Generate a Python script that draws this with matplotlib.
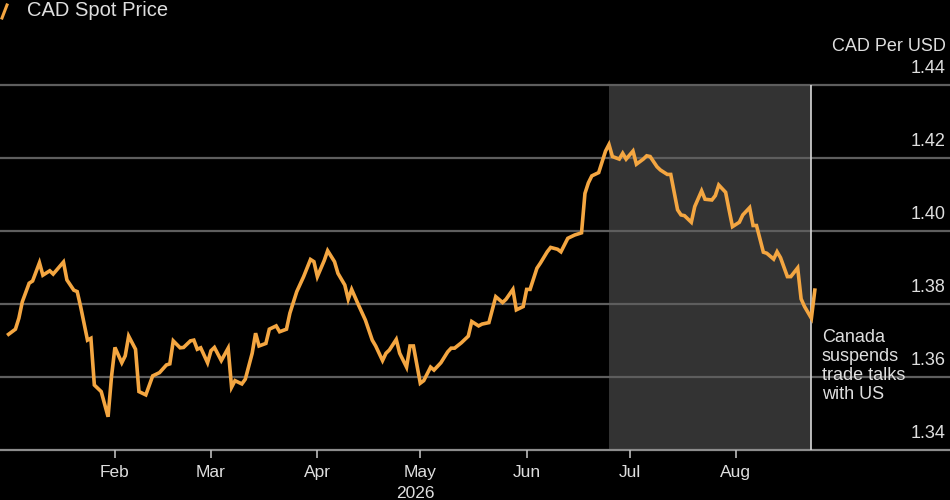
import numpy as np
import matplotlib
matplotlib.use("Agg")
import matplotlib.pyplot as plt
import matplotlib.dates as mdates
from matplotlib.lines import Line2D

plt.rcParams["font.family"] = ["Liberation Sans", "DejaVu Sans"]

# --- data ---
START = np.datetime64("2026-01-01")
days = [0, 2, 3, 4, 6, 7, 9, 10, 12, 13, 14, 16, 17, 19, 20, 21, 23, 24, 25, 27,
        29, 30, 31, 33, 34, 35, 37, 38, 40, 42, 44, 46, 47, 48, 50, 51, 53, 54, 55, 56,
        58, 59, 60, 62, 64, 65, 66, 68, 69, 71, 72, 73, 75, 76, 78, 79, 81, 82, 84, 86,
        88, 89, 90, 92, 93, 95, 96, 98, 99, 100, 102, 104, 106, 107, 109, 110, 111, 113,
        114, 116, 117, 118, 120, 121, 123, 124, 126, 128, 129, 130, 132, 134, 135, 137,
        138, 140, 142, 144, 145, 147, 148, 150, 151, 152, 154, 155, 157, 158, 160, 161,
        163, 165, 167, 168, 169, 170, 172, 174, 175, 176, 178, 179, 180, 182, 183, 185,
        186, 187, 189, 190, 192, 193, 195, 196, 197, 199, 200, 202, 203, 205, 206, 207,
        209, 210, 211, 213, 214, 216, 217, 218, 220, 221, 223, 224, 225, 227, 228, 230,
        231, 232, 234, 235]
price = [1.3717, 1.3731, 1.3761, 1.3806, 1.3857, 1.3863, 1.3913, 1.3879, 1.3891, 1.3882,
         1.3893, 1.3915, 1.3866, 1.3838, 1.3834, 1.3793, 1.3701, 1.3706, 1.3578, 1.3560,
         1.3491, 1.3601, 1.3681, 1.3639, 1.3658, 1.3712, 1.3676, 1.3560, 1.3551, 1.3603,
         1.3612, 1.3633, 1.3636, 1.3699, 1.3680, 1.3681, 1.3699, 1.3701, 1.3676, 1.3680,
         1.3639, 1.3672, 1.3681, 1.3645, 1.3679, 1.3572, 1.3590, 1.3581, 1.3594, 1.3665,
         1.3720, 1.3685, 1.3692, 1.3731, 1.3740, 1.3724, 1.3731, 1.3775, 1.3834, 1.3875,
         1.3922, 1.3916, 1.3875, 1.3919, 1.3946, 1.3916, 1.3884, 1.3852, 1.3813, 1.3840,
         1.3797, 1.3756, 1.3701, 1.3685, 1.3645, 1.3665, 1.3674, 1.3703, 1.3665, 1.3627,
         1.3685, 1.3685, 1.3583, 1.3590, 1.3627, 1.3619, 1.3639, 1.3669, 1.3679, 1.3679,
         1.3694, 1.3712, 1.3752, 1.3740, 1.3745, 1.3749, 1.3820, 1.3804, 1.3813, 1.3840,
         1.3784, 1.3793, 1.3840, 1.3840, 1.3898, 1.3912, 1.3943, 1.3955, 1.3950, 1.3943,
         1.3980, 1.3989, 1.3995, 1.4103, 1.4132, 1.4151, 1.4160, 1.4219, 1.4237, 1.4204,
         1.4197, 1.4213, 1.4197, 1.4219, 1.4183, 1.4197, 1.4206, 1.4204, 1.4176, 1.4167,
         1.4155, 1.4155, 1.4058, 1.4044, 1.4042, 1.4024, 1.4067, 1.4110, 1.4087, 1.4085,
         1.4097, 1.4126, 1.4106, 1.4058, 1.4012, 1.4024, 1.4044, 1.4064, 1.4015, 1.4015,
         1.3942, 1.3939, 1.3923, 1.3943, 1.3927, 1.3875, 1.3875, 1.3899, 1.3814, 1.3793,
         1.3761, 1.3838]

month_ticks = ["2026-02-01", "2026-03-01", "2026-04-01", "2026-05-01",
               "2026-06-01", "2026-07-01", "2026-08-01"]
month_labels = ["Feb", "Mar", "Apr", "May", "Jun", "Jul", "Aug"]
y_ticks = [1.34, 1.36, 1.38, 1.40, 1.42, 1.44]
shade_start, shade_end = "2026-06-25", "2026-08-23"
event_date = "2026-08-23"
event_text = "Canada\nsuspends\ntrade talks\nwith US"

ORANGE = "#f4a641"
TEXT = "#dedede"
GRID = "#5e5e5e"

dates = START + np.array(days).astype("timedelta64[D]")
x0 = mdates.date2num(START)

fig = plt.figure(figsize=(9.5, 5), dpi=100, facecolor="black")
ax = fig.add_axes([0, 0.1, 1, 0.73])
ax.set_facecolor("black")
for s in ax.spines.values():
    s.set_visible(False)

ax.set_xlim(x0 - 2.5, x0 + 274.4)
ax.set_ylim(1.34, 1.44)

ax.axvspan(np.datetime64(shade_start), np.datetime64(shade_end),
           color="#333333", lw=0, zorder=0)
for v in y_ticks:
    ax.axhline(v, color="#8c8c8c" if v == y_ticks[0] else GRID,
               lw=1.6, zorder=1, clip_on=False)
    ax.annotate(f"{v:.2f}", xy=(1, v), xycoords=("axes fraction", "data"),
                xytext=(-3, 12), textcoords="offset points",
                ha="right", va="center", color=TEXT, fontsize=13)
ax.annotate("CAD Per USD", xy=(1, y_ticks[-1]), xycoords=("axes fraction", "data"),
            xytext=(-3, 28), textcoords="offset points",
            ha="right", va="center", color=TEXT, fontsize=13)

ax.axvline(np.datetime64(event_date), color="#d8d8d8", lw=1.2, zorder=2)
ax.plot(dates, price, color=ORANGE, lw=2.6, zorder=3, solid_joinstyle="miter")

low = price[days.index(234)]
ax.annotate(event_text, xy=(np.datetime64(event_date), low),
            xytext=(7.5, -8), textcoords="offset points",
            ha="left", va="top", color=TEXT, fontsize=13, linespacing=1.15)

ax.set_xticks([np.datetime64(d) for d in month_ticks])
ax.set_xticklabels(month_labels)
ax.set_yticks([])
ax.tick_params(axis="x", direction="out", length=5.5, width=1.2, color="#bbbbbb",
               pad=5, labelsize=12.5, labelcolor=TEXT)

fig.text(415 / 950, 0.012, "2026", ha="center", va="center", color=TEXT, fontsize=12.5)

# legend-like title with orange slash
fig.add_artist(Line2D([2 / 950, 7 / 950], [1 - 18 / 500, 1 - 5 / 500],
                      color=ORANGE, lw=2.2, transform=fig.transFigure))
fig.text(27 / 950, 1 - 11 / 500, "CAD Spot Price", ha="left", va="center",
         color=TEXT, fontsize=14.5)

fig.savefig("out.png", dpi=100, facecolor="black")
